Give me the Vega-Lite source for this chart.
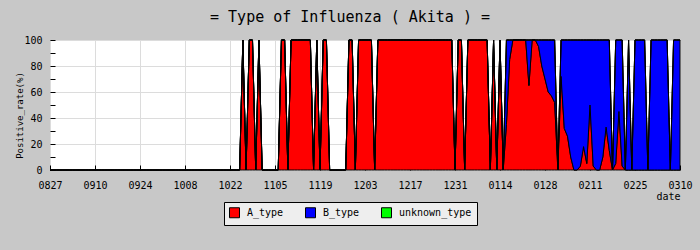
{
"$schema": "https://vega.github.io/schema/vega-lite/v6.json",
"width": 630, "height": 130,
"autosize": {"type": "none"},
"padding": {"left": 50, "top": 40, "right": 20, "bottom": 80},
"background": "#c8c8c8",
"title": {"text": "= Type of Influenza ( Akita ) =", "font": "DejaVu Sans Mono", "fontSize": 15, "fontWeight": "normal", "color": "black", "anchor": "middle", "dx": -15, "dy": 21, "baseline": "alphabetic", "offset": 19},
"data": {"values": [
{"date":"2023-08-27","A_type":0,"B_type":0,"unknown_type":0},
{"date":"2023-08-28","A_type":0,"B_type":0,"unknown_type":0},
{"date":"2023-08-29","A_type":0,"B_type":0,"unknown_type":0},
{"date":"2023-08-30","A_type":0,"B_type":0,"unknown_type":0},
{"date":"2023-08-31","A_type":0,"B_type":0,"unknown_type":0},
{"date":"2023-09-01","A_type":0,"B_type":0,"unknown_type":0},
{"date":"2023-09-02","A_type":0,"B_type":0,"unknown_type":0},
{"date":"2023-09-03","A_type":0,"B_type":0,"unknown_type":0},
{"date":"2023-09-04","A_type":0,"B_type":0,"unknown_type":0},
{"date":"2023-09-05","A_type":0,"B_type":0,"unknown_type":0},
{"date":"2023-09-06","A_type":0,"B_type":0,"unknown_type":0},
{"date":"2023-09-07","A_type":0,"B_type":0,"unknown_type":0},
{"date":"2023-09-08","A_type":0,"B_type":0,"unknown_type":0},
{"date":"2023-09-09","A_type":0,"B_type":0,"unknown_type":0},
{"date":"2023-09-10","A_type":0,"B_type":0,"unknown_type":0},
{"date":"2023-09-11","A_type":0,"B_type":0,"unknown_type":0},
{"date":"2023-09-12","A_type":0,"B_type":0,"unknown_type":0},
{"date":"2023-09-13","A_type":0,"B_type":0,"unknown_type":0},
{"date":"2023-09-14","A_type":0,"B_type":0,"unknown_type":0},
{"date":"2023-09-15","A_type":0,"B_type":0,"unknown_type":0},
{"date":"2023-09-16","A_type":0,"B_type":0,"unknown_type":0},
{"date":"2023-09-17","A_type":0,"B_type":0,"unknown_type":0},
{"date":"2023-09-18","A_type":0,"B_type":0,"unknown_type":0},
{"date":"2023-09-19","A_type":0,"B_type":0,"unknown_type":0},
{"date":"2023-09-20","A_type":0,"B_type":0,"unknown_type":0},
{"date":"2023-09-21","A_type":0,"B_type":0,"unknown_type":0},
{"date":"2023-09-22","A_type":0,"B_type":0,"unknown_type":0},
{"date":"2023-09-23","A_type":0,"B_type":0,"unknown_type":0},
{"date":"2023-09-24","A_type":0,"B_type":0,"unknown_type":0},
{"date":"2023-09-25","A_type":0,"B_type":0,"unknown_type":0},
{"date":"2023-09-26","A_type":0,"B_type":0,"unknown_type":0},
{"date":"2023-09-27","A_type":0,"B_type":0,"unknown_type":0},
{"date":"2023-09-28","A_type":0,"B_type":0,"unknown_type":0},
{"date":"2023-09-29","A_type":0,"B_type":0,"unknown_type":0},
{"date":"2023-09-30","A_type":0,"B_type":0,"unknown_type":0},
{"date":"2023-10-01","A_type":0,"B_type":0,"unknown_type":0},
{"date":"2023-10-02","A_type":0,"B_type":0,"unknown_type":0},
{"date":"2023-10-03","A_type":0,"B_type":0,"unknown_type":0},
{"date":"2023-10-04","A_type":0,"B_type":0,"unknown_type":0},
{"date":"2023-10-05","A_type":0,"B_type":0,"unknown_type":0},
{"date":"2023-10-06","A_type":0,"B_type":0,"unknown_type":0},
{"date":"2023-10-07","A_type":0,"B_type":0,"unknown_type":0},
{"date":"2023-10-08","A_type":0,"B_type":0,"unknown_type":0},
{"date":"2023-10-09","A_type":0,"B_type":0,"unknown_type":0},
{"date":"2023-10-10","A_type":0,"B_type":0,"unknown_type":0},
{"date":"2023-10-11","A_type":0,"B_type":0,"unknown_type":0},
{"date":"2023-10-12","A_type":0,"B_type":0,"unknown_type":0},
{"date":"2023-10-13","A_type":0,"B_type":0,"unknown_type":0},
{"date":"2023-10-14","A_type":0,"B_type":0,"unknown_type":0},
{"date":"2023-10-15","A_type":0,"B_type":0,"unknown_type":0},
{"date":"2023-10-16","A_type":0,"B_type":0,"unknown_type":0},
{"date":"2023-10-17","A_type":0,"B_type":0,"unknown_type":0},
{"date":"2023-10-18","A_type":0,"B_type":0,"unknown_type":0},
{"date":"2023-10-19","A_type":0,"B_type":0,"unknown_type":0},
{"date":"2023-10-20","A_type":0,"B_type":0,"unknown_type":0},
{"date":"2023-10-21","A_type":0,"B_type":0,"unknown_type":0},
{"date":"2023-10-22","A_type":0,"B_type":0,"unknown_type":0},
{"date":"2023-10-23","A_type":0,"B_type":0,"unknown_type":0},
{"date":"2023-10-24","A_type":0,"B_type":0,"unknown_type":0},
{"date":"2023-10-25","A_type":0,"B_type":0,"unknown_type":0},
{"date":"2023-10-26","A_type":100,"B_type":0,"unknown_type":0},
{"date":"2023-10-27","A_type":0,"B_type":0,"unknown_type":0},
{"date":"2023-10-28","A_type":100,"B_type":0,"unknown_type":0},
{"date":"2023-10-29","A_type":100,"B_type":0,"unknown_type":0},
{"date":"2023-10-30","A_type":0,"B_type":0,"unknown_type":0},
{"date":"2023-10-31","A_type":100,"B_type":0,"unknown_type":0},
{"date":"2023-11-01","A_type":0,"B_type":0,"unknown_type":0},
{"date":"2023-11-02","A_type":0,"B_type":0,"unknown_type":0},
{"date":"2023-11-03","A_type":0,"B_type":0,"unknown_type":0},
{"date":"2023-11-04","A_type":0,"B_type":0,"unknown_type":0},
{"date":"2023-11-05","A_type":0,"B_type":0,"unknown_type":0},
{"date":"2023-11-06","A_type":0,"B_type":0,"unknown_type":0},
{"date":"2023-11-07","A_type":100,"B_type":0,"unknown_type":0},
{"date":"2023-11-08","A_type":100,"B_type":0,"unknown_type":0},
{"date":"2023-11-09","A_type":0,"B_type":0,"unknown_type":0},
{"date":"2023-11-10","A_type":100,"B_type":0,"unknown_type":0},
{"date":"2023-11-11","A_type":100,"B_type":0,"unknown_type":0},
{"date":"2023-11-12","A_type":100,"B_type":0,"unknown_type":0},
{"date":"2023-11-13","A_type":100,"B_type":0,"unknown_type":0},
{"date":"2023-11-14","A_type":100,"B_type":0,"unknown_type":0},
{"date":"2023-11-15","A_type":100,"B_type":0,"unknown_type":0},
{"date":"2023-11-16","A_type":100,"B_type":0,"unknown_type":0},
{"date":"2023-11-17","A_type":0,"B_type":0,"unknown_type":0},
{"date":"2023-11-18","A_type":100,"B_type":0,"unknown_type":0},
{"date":"2023-11-19","A_type":0,"B_type":0,"unknown_type":0},
{"date":"2023-11-20","A_type":100,"B_type":0,"unknown_type":0},
{"date":"2023-11-21","A_type":100,"B_type":0,"unknown_type":0},
{"date":"2023-11-22","A_type":0,"B_type":0,"unknown_type":0},
{"date":"2023-11-23","A_type":0,"B_type":0,"unknown_type":0},
{"date":"2023-11-24","A_type":0,"B_type":0,"unknown_type":0},
{"date":"2023-11-25","A_type":0,"B_type":0,"unknown_type":0},
{"date":"2023-11-26","A_type":0,"B_type":0,"unknown_type":0},
{"date":"2023-11-27","A_type":0,"B_type":0,"unknown_type":0},
{"date":"2023-11-28","A_type":100,"B_type":0,"unknown_type":0},
{"date":"2023-11-29","A_type":100,"B_type":0,"unknown_type":0},
{"date":"2023-11-30","A_type":0,"B_type":0,"unknown_type":0},
{"date":"2023-12-01","A_type":100,"B_type":0,"unknown_type":0},
{"date":"2023-12-02","A_type":100,"B_type":0,"unknown_type":0},
{"date":"2023-12-03","A_type":100,"B_type":0,"unknown_type":0},
{"date":"2023-12-04","A_type":100,"B_type":0,"unknown_type":0},
{"date":"2023-12-05","A_type":100,"B_type":0,"unknown_type":0},
{"date":"2023-12-06","A_type":0,"B_type":0,"unknown_type":0},
{"date":"2023-12-07","A_type":100,"B_type":0,"unknown_type":0},
{"date":"2023-12-08","A_type":100,"B_type":0,"unknown_type":0},
{"date":"2023-12-09","A_type":100,"B_type":0,"unknown_type":0},
{"date":"2023-12-10","A_type":100,"B_type":0,"unknown_type":0},
{"date":"2023-12-11","A_type":100,"B_type":0,"unknown_type":0},
{"date":"2023-12-12","A_type":100,"B_type":0,"unknown_type":0},
{"date":"2023-12-13","A_type":100,"B_type":0,"unknown_type":0},
{"date":"2023-12-14","A_type":100,"B_type":0,"unknown_type":0},
{"date":"2023-12-15","A_type":100,"B_type":0,"unknown_type":0},
{"date":"2023-12-16","A_type":100,"B_type":0,"unknown_type":0},
{"date":"2023-12-17","A_type":100,"B_type":0,"unknown_type":0},
{"date":"2023-12-18","A_type":100,"B_type":0,"unknown_type":0},
{"date":"2023-12-19","A_type":100,"B_type":0,"unknown_type":0},
{"date":"2023-12-20","A_type":100,"B_type":0,"unknown_type":0},
{"date":"2023-12-21","A_type":100,"B_type":0,"unknown_type":0},
{"date":"2023-12-22","A_type":100,"B_type":0,"unknown_type":0},
{"date":"2023-12-23","A_type":100,"B_type":0,"unknown_type":0},
{"date":"2023-12-24","A_type":100,"B_type":0,"unknown_type":0},
{"date":"2023-12-25","A_type":100,"B_type":0,"unknown_type":0},
{"date":"2023-12-26","A_type":100,"B_type":0,"unknown_type":0},
{"date":"2023-12-27","A_type":100,"B_type":0,"unknown_type":0},
{"date":"2023-12-28","A_type":100,"B_type":0,"unknown_type":0},
{"date":"2023-12-29","A_type":100,"B_type":0,"unknown_type":0},
{"date":"2023-12-30","A_type":100,"B_type":0,"unknown_type":0},
{"date":"2023-12-31","A_type":0,"B_type":0,"unknown_type":0},
{"date":"2024-01-01","A_type":100,"B_type":0,"unknown_type":0},
{"date":"2024-01-02","A_type":100,"B_type":0,"unknown_type":0},
{"date":"2024-01-03","A_type":0,"B_type":0,"unknown_type":0},
{"date":"2024-01-04","A_type":100,"B_type":0,"unknown_type":0},
{"date":"2024-01-05","A_type":100,"B_type":0,"unknown_type":0},
{"date":"2024-01-06","A_type":100,"B_type":0,"unknown_type":0},
{"date":"2024-01-07","A_type":100,"B_type":0,"unknown_type":0},
{"date":"2024-01-08","A_type":100,"B_type":0,"unknown_type":0},
{"date":"2024-01-09","A_type":100,"B_type":0,"unknown_type":0},
{"date":"2024-01-10","A_type":100,"B_type":0,"unknown_type":0},
{"date":"2024-01-11","A_type":0,"B_type":0,"unknown_type":0},
{"date":"2024-01-12","A_type":100,"B_type":0,"unknown_type":0},
{"date":"2024-01-13","A_type":0,"B_type":0,"unknown_type":0},
{"date":"2024-01-14","A_type":100,"B_type":0,"unknown_type":0},
{"date":"2024-01-15","A_type":0,"B_type":0,"unknown_type":0},
{"date":"2024-01-16","A_type":35,"B_type":65,"unknown_type":0},
{"date":"2024-01-17","A_type":85,"B_type":15,"unknown_type":0},
{"date":"2024-01-18","A_type":100,"B_type":0,"unknown_type":0},
{"date":"2024-01-19","A_type":100,"B_type":0,"unknown_type":0},
{"date":"2024-01-20","A_type":100,"B_type":0,"unknown_type":0},
{"date":"2024-01-21","A_type":100,"B_type":0,"unknown_type":0},
{"date":"2024-01-22","A_type":100,"B_type":0,"unknown_type":0},
{"date":"2024-01-23","A_type":65,"B_type":35,"unknown_type":0},
{"date":"2024-01-24","A_type":100,"B_type":0,"unknown_type":0},
{"date":"2024-01-25","A_type":100,"B_type":0,"unknown_type":0},
{"date":"2024-01-26","A_type":95,"B_type":5,"unknown_type":0},
{"date":"2024-01-27","A_type":80,"B_type":20,"unknown_type":0},
{"date":"2024-01-28","A_type":70,"B_type":30,"unknown_type":0},
{"date":"2024-01-29","A_type":60,"B_type":40,"unknown_type":0},
{"date":"2024-01-30","A_type":57,"B_type":43,"unknown_type":0},
{"date":"2024-01-31","A_type":52,"B_type":48,"unknown_type":0},
{"date":"2024-02-01","A_type":0,"B_type":0,"unknown_type":0},
{"date":"2024-02-02","A_type":72,"B_type":28,"unknown_type":0},
{"date":"2024-02-03","A_type":32,"B_type":68,"unknown_type":0},
{"date":"2024-02-04","A_type":26,"B_type":74,"unknown_type":0},
{"date":"2024-02-05","A_type":10,"B_type":90,"unknown_type":0},
{"date":"2024-02-06","A_type":0,"B_type":100,"unknown_type":0},
{"date":"2024-02-07","A_type":0,"B_type":100,"unknown_type":0},
{"date":"2024-02-08","A_type":3,"B_type":97,"unknown_type":0},
{"date":"2024-02-09","A_type":18,"B_type":82,"unknown_type":0},
{"date":"2024-02-10","A_type":5,"B_type":95,"unknown_type":0},
{"date":"2024-02-11","A_type":50,"B_type":50,"unknown_type":0},
{"date":"2024-02-12","A_type":3,"B_type":97,"unknown_type":0},
{"date":"2024-02-13","A_type":0,"B_type":100,"unknown_type":0},
{"date":"2024-02-14","A_type":0,"B_type":100,"unknown_type":0},
{"date":"2024-02-15","A_type":10,"B_type":90,"unknown_type":0},
{"date":"2024-02-16","A_type":33,"B_type":67,"unknown_type":0},
{"date":"2024-02-17","A_type":15,"B_type":85,"unknown_type":0},
{"date":"2024-02-18","A_type":0,"B_type":0,"unknown_type":0},
{"date":"2024-02-19","A_type":5,"B_type":95,"unknown_type":0},
{"date":"2024-02-20","A_type":45,"B_type":55,"unknown_type":0},
{"date":"2024-02-21","A_type":3,"B_type":97,"unknown_type":0},
{"date":"2024-02-22","A_type":0,"B_type":0,"unknown_type":0},
{"date":"2024-02-23","A_type":0,"B_type":100,"unknown_type":0},
{"date":"2024-02-24","A_type":0,"B_type":0,"unknown_type":0},
{"date":"2024-02-25","A_type":0,"B_type":100,"unknown_type":0},
{"date":"2024-02-26","A_type":0,"B_type":100,"unknown_type":0},
{"date":"2024-02-27","A_type":0,"B_type":100,"unknown_type":0},
{"date":"2024-02-28","A_type":0,"B_type":100,"unknown_type":0},
{"date":"2024-02-29","A_type":0,"B_type":0,"unknown_type":0},
{"date":"2024-03-01","A_type":0,"B_type":100,"unknown_type":0},
{"date":"2024-03-02","A_type":0,"B_type":100,"unknown_type":0},
{"date":"2024-03-03","A_type":0,"B_type":100,"unknown_type":0},
{"date":"2024-03-04","A_type":0,"B_type":100,"unknown_type":0},
{"date":"2024-03-05","A_type":0,"B_type":100,"unknown_type":0},
{"date":"2024-03-06","A_type":0,"B_type":100,"unknown_type":0},
{"date":"2024-03-07","A_type":0,"B_type":0,"unknown_type":0},
{"date":"2024-03-08","A_type":0,"B_type":100,"unknown_type":0},
{"date":"2024-03-09","A_type":0,"B_type":100,"unknown_type":0},
{"date":"2024-03-10","A_type":0,"B_type":100,"unknown_type":0}
]},
"transform": [{"fold": ["A_type", "B_type", "unknown_type"], "as": ["type", "rate"]}],
"mark": {"type": "area", "interpolate": "linear", "stroke": "black", "strokeWidth": 1, "opacity": 1},
"encoding": {
  "x": {"field": "date", "type": "temporal",
    "scale": {"type": "utc", "domain": [{"year": 2023, "month": 8, "date": 27, "utc": true}, {"year": 2024, "month": 3, "date": 10, "utc": true}]},
    "axis": {
      "values": [
        {"year": 2023, "month": 8, "date": 27, "utc": true},
        {"year": 2023, "month": 9, "date": 10, "utc": true},
        {"year": 2023, "month": 9, "date": 24, "utc": true},
        {"year": 2023, "month": 10, "date": 8, "utc": true},
        {"year": 2023, "month": 10, "date": 22, "utc": true},
        {"year": 2023, "month": 11, "date": 5, "utc": true},
        {"year": 2023, "month": 11, "date": 19, "utc": true},
        {"year": 2023, "month": 12, "date": 3, "utc": true},
        {"year": 2023, "month": 12, "date": 17, "utc": true},
        {"year": 2023, "month": 12, "date": 31, "utc": true},
        {"year": 2024, "month": 1, "date": 14, "utc": true},
        {"year": 2024, "month": 1, "date": 28, "utc": true},
        {"year": 2024, "month": 2, "date": 11, "utc": true},
        {"year": 2024, "month": 2, "date": 25, "utc": true},
        {"year": 2024, "month": 3, "date": 10, "utc": true}
      ],
      "format": "%m%d",
      "title": "date", "titleAnchor": "end", "titleAlign": "right", "titleX": 630, "titleY": 26, "titleBaseline": "middle",
      "titleFont": "DejaVu Sans Mono", "titleFontSize": 10, "titleFontWeight": "normal",
      "labelFont": "DejaVu Sans Mono", "labelFontSize": 10, "labelFlush": false, "labelOverlap": false,
      "tickSize": -5, "labelPadding": 15, "grid": true, "gridColor": "#dcdcdc", "domain": false
    }
  },
  "y": {"field": "rate", "type": "quantitative", "stack": "zero",
    "scale": {"domain": [0, 100], "nice": false},
    "axis": {
      "values": [0, 10, 20, 30, 40, 50, 60, 70, 80, 90, 100],
      "labelExpr": "datum.value % 20 == 0 ? datum.label : ''",
      "title": "Positive_rate(%)", "titleFont": "DejaVu Sans Mono", "titleFontSize": 9, "titleFontWeight": "normal",
      "titleX": -31, "titleY": 75, "titleBaseline": "middle", "titleAlign": "center", "titleAngle": -90,
      "labelFont": "DejaVu Sans Mono", "labelFontSize": 10,
      "tickSize": -5, "labelPadding": 13, "grid": true, "gridColor": "#dcdcdc",
      "gridOpacity": {"condition": {"test": "datum.value % 20 == 0", "value": 1}, "value": 0},
      "domain": false
    }
  },
  "color": {"field": "type", "type": "nominal",
    "scale": {"domain": ["A_type", "B_type", "unknown_type"], "range": ["#ff0000", "#0000ff", "#00ff00"]},
    "legend": {"orient": "none", "legendX": 174, "legendY": 162, "direction": "horizontal", "title": null,
      "fillColor": "#eeeeee", "strokeColor": "black", "padding": 5,
      "symbolType": "square", "symbolSize": 100, "symbolStrokeColor": "black", "symbolStrokeWidth": 1, "symbolOpacity": 1,
      "labelFont": "DejaVu Sans Mono", "labelFontSize": 10, "labelColor": "black", "labelOffset": 7, "columnPadding": 19}
  },
  "order": {"field": "type", "sort": "ascending"}
},
"config": {
  "view": {"fill": "white", "stroke": "black", "strokeWidth": 1},
  "axis": {"labelColor": "black", "titleColor": "black", "tickColor": "black"}
}
}
